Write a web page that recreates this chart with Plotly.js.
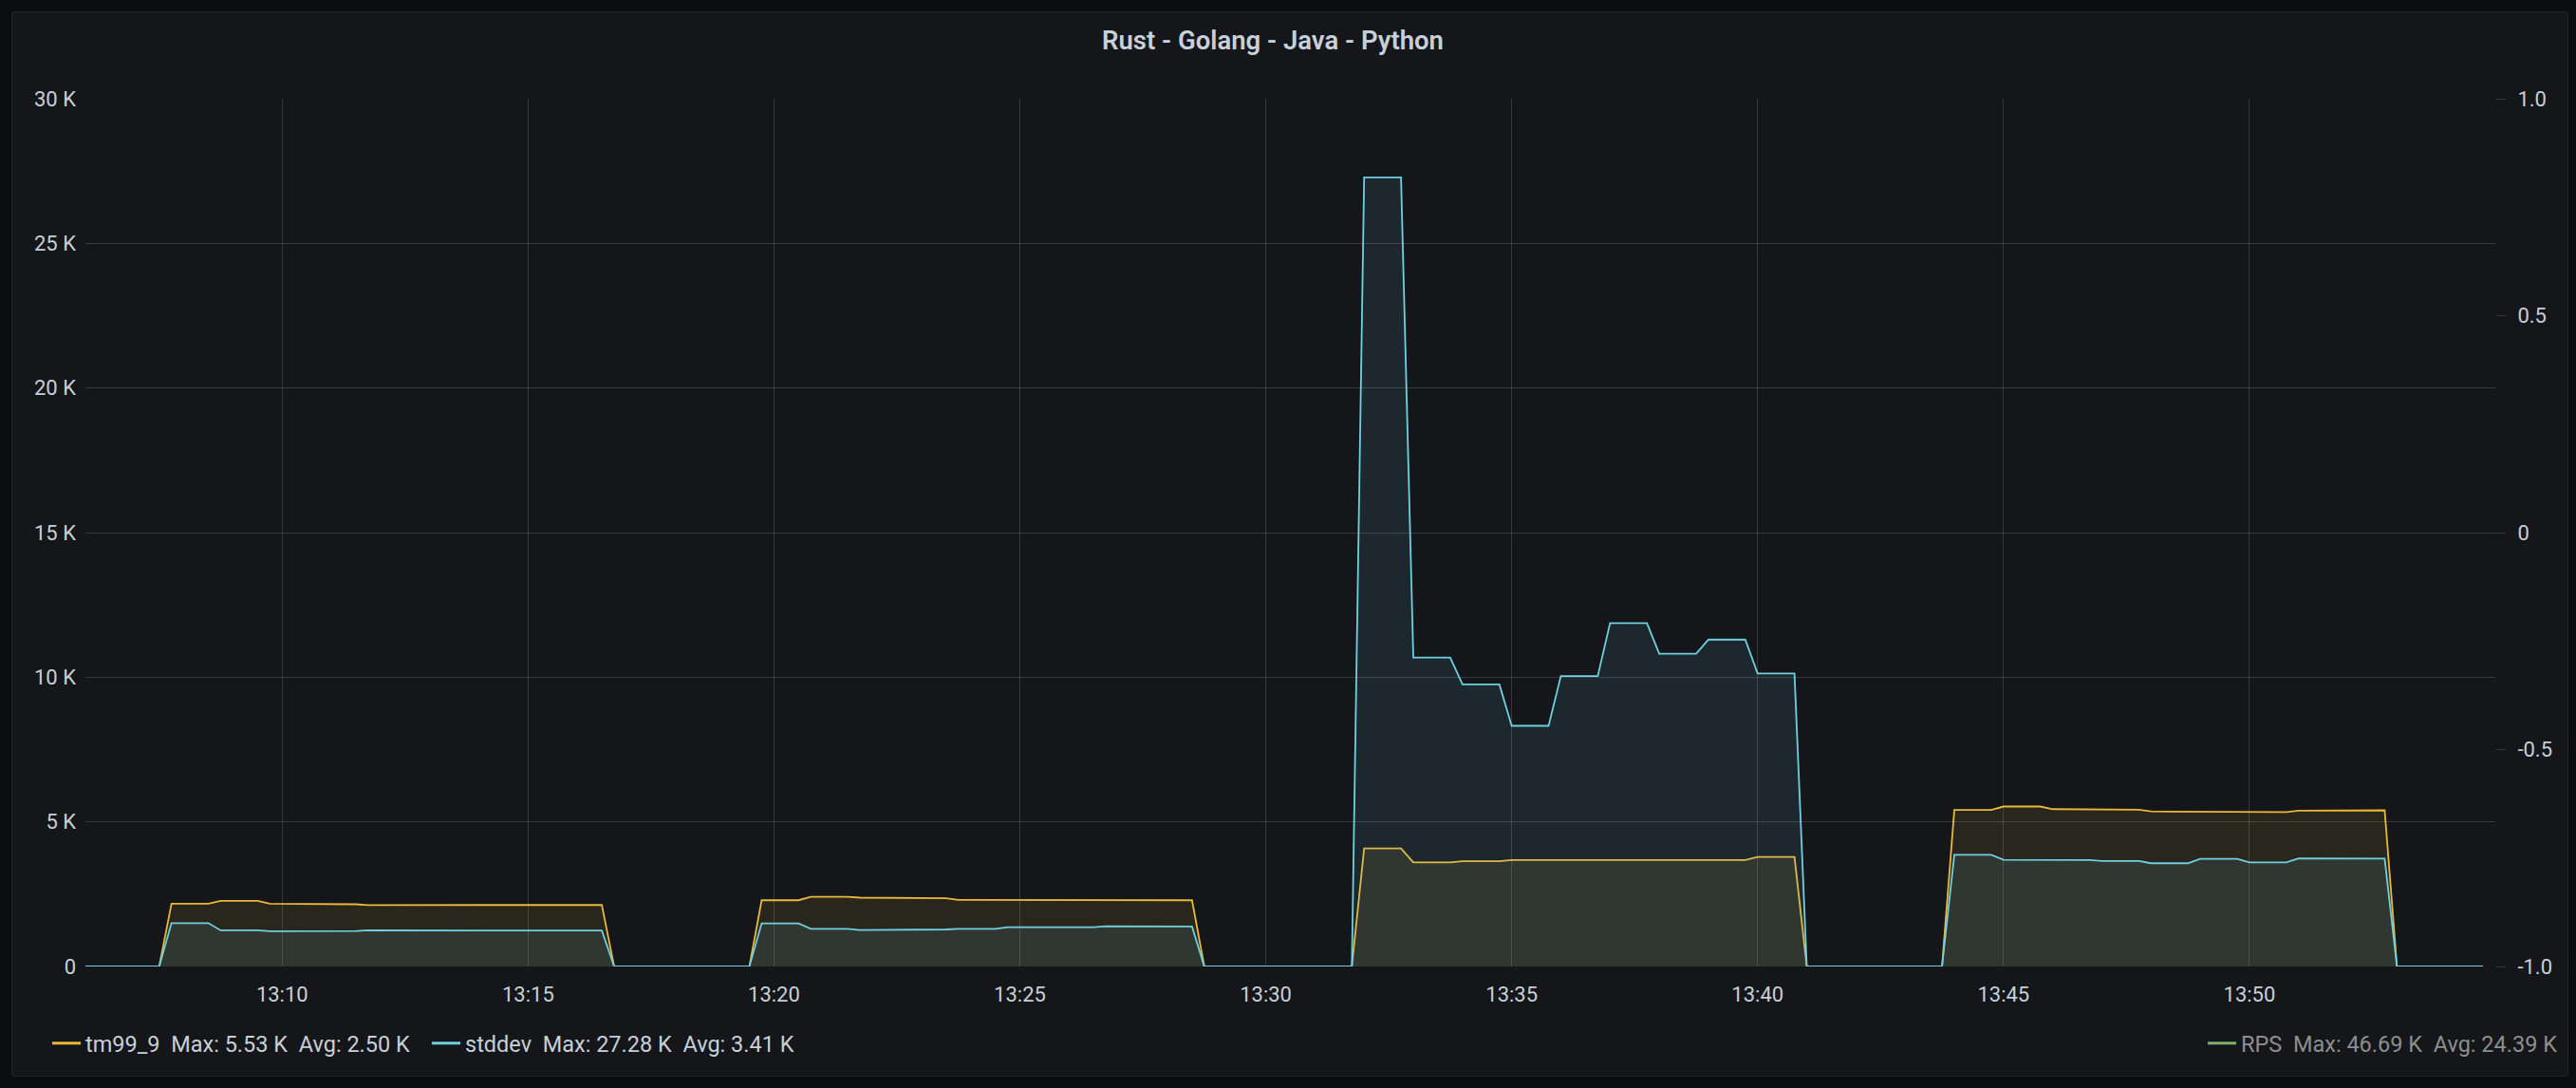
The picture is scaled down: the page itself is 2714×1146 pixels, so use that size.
<!DOCTYPE html>
<html>
<head>
<meta charset="utf-8">
<script src="https://cdn.plot.ly/plotly-3.0.1.min.js"></script>
<style>
html,body{margin:0;padding:0;background:#0b0c0e;width:2714px;height:1146px;overflow:hidden;}
#panel{position:absolute;left:12px;top:12px;width:2694px;height:1122px;box-sizing:border-box;background:#141619;border:1px solid #222429;border-radius:3px;}
#chart{position:absolute;left:0;top:0;width:2714px;height:1146px;}
</style>
</head>
<body>
<div id="panel"></div>
<div id="chart"></div>
<script>
// ---- data ----
const day = '2021-06-01 ';
const times = [
'13:06:00','13:06:15','13:06:30','13:06:45',
'13:07:00','13:07:15','13:07:30','13:07:45',
'13:08:00','13:08:15','13:08:30','13:08:45',
'13:09:00','13:09:15','13:09:30','13:09:45',
'13:10:00','13:10:15','13:10:30','13:10:45',
'13:11:00','13:11:15','13:11:30','13:11:45',
'13:12:00','13:12:15','13:12:30','13:12:45',
'13:13:00','13:13:15','13:13:30','13:13:45',
'13:14:00','13:14:15','13:14:30','13:14:45',
'13:15:00','13:15:15','13:15:30','13:15:45',
'13:16:00','13:16:15','13:16:30','13:16:45',
'13:17:00','13:17:15','13:17:30','13:17:45',
'13:18:00','13:18:15','13:18:30','13:18:45',
'13:19:00','13:19:15','13:19:30','13:19:45',
'13:20:00','13:20:15','13:20:30','13:20:45',
'13:21:00','13:21:15','13:21:30','13:21:45',
'13:22:00','13:22:15','13:22:30','13:22:45',
'13:23:00','13:23:15','13:23:30','13:23:45',
'13:24:00','13:24:15','13:24:30','13:24:45',
'13:25:00','13:25:15','13:25:30','13:25:45',
'13:26:00','13:26:15','13:26:30','13:26:45',
'13:27:00','13:27:15','13:27:30','13:27:45',
'13:28:00','13:28:15','13:28:30','13:28:45',
'13:29:00','13:29:15','13:29:30','13:29:45',
'13:30:00','13:30:15','13:30:30','13:30:45',
'13:31:00','13:31:15','13:31:30','13:31:45',
'13:32:00','13:32:15','13:32:30','13:32:45',
'13:33:00','13:33:15','13:33:30','13:33:45',
'13:34:00','13:34:15','13:34:30','13:34:45',
'13:35:00','13:35:15','13:35:30','13:35:45',
'13:36:00','13:36:15','13:36:30','13:36:45',
'13:37:00','13:37:15','13:37:30','13:37:45',
'13:38:00','13:38:15','13:38:30','13:38:45',
'13:39:00','13:39:15','13:39:30','13:39:45',
'13:40:00','13:40:15','13:40:30','13:40:45',
'13:41:00','13:41:15','13:41:30','13:41:45',
'13:42:00','13:42:15','13:42:30','13:42:45',
'13:43:00','13:43:15','13:43:30','13:43:45',
'13:44:00','13:44:15','13:44:30','13:44:45',
'13:45:00','13:45:15','13:45:30','13:45:45',
'13:46:00','13:46:15','13:46:30','13:46:45',
'13:47:00','13:47:15','13:47:30','13:47:45',
'13:48:00','13:48:15','13:48:30','13:48:45',
'13:49:00','13:49:15','13:49:30','13:49:45',
'13:50:00','13:50:15','13:50:30','13:50:45',
'13:51:00','13:51:15','13:51:30','13:51:45',
'13:52:00','13:52:15','13:52:30','13:52:45',
'13:53:00','13:53:15','13:53:30','13:53:45',
'13:54:00','13:54:15','13:54:30','13:54:45'
];
const tm99_9 = [
0,0,0,0,
0,0,0,2170,
2170,2170,2170,2270,
2270,2270,2270,2170,
2170,2170,2170,2150,
2150,2150,2150,2120,
2120,2120,2120,2130,
2130,2130,2130,2120,
2120,2120,2120,2110,
2110,2110,2110,2130,
2130,2130,2130,0,
0,0,0,0,
0,0,0,0,
0,0,0,2290,
2290,2290,2290,2410,
2410,2410,2410,2380,
2380,2380,2380,2360,
2360,2360,2360,2300,
2300,2300,2300,2280,
2280,2280,2280,2300,
2300,2300,2300,2280,
2280,2280,2280,2290,
2290,2290,2290,0,
0,0,0,0,
0,0,0,0,
0,0,0,0,
4080,4080,4080,4080,
3600,3600,3600,3600,
3640,3640,3640,3640,
3680,3680,3680,3680,
3700,3700,3700,3700,
3680,3680,3680,3680,
3680,3680,3680,3680,
3680,3680,3680,3680,
3790,3790,3790,3790,
0,0,0,0,
0,0,0,0,
0,0,0,0,
5410,5410,5410,5410,
5530,5530,5530,5530,
5440,5440,5440,5440,
5420,5420,5420,5420,
5360,5360,5360,5360,
5360,5360,5360,5360,
5340,5340,5340,5340,
5390,5390,5390,5390,
5400,5400,5400,5400,
0,0,0,0,
0,0,0,0
];
const stddev = [
0,0,0,0,
0,0,0,1500,
1500,1500,1500,1250,
1250,1250,1250,1220,
1220,1220,1220,1230,
1230,1230,1230,1250,
1250,1250,1250,1250,
1250,1250,1250,1250,
1250,1250,1250,1230,
1230,1230,1230,1240,
1240,1240,1240,0,
0,0,0,0,
0,0,0,0,
0,0,0,1490,
1490,1490,1490,1300,
1300,1300,1300,1260,
1260,1260,1260,1280,
1280,1280,1280,1300,
1300,1300,1300,1360,
1360,1360,1360,1360,
1360,1360,1360,1390,
1390,1390,1390,1380,
1380,1380,1380,0,
0,0,0,0,
0,0,0,0,
0,0,0,0,
27280,27280,27280,27280,
10680,10680,10680,10680,
9750,9750,9750,9750,
8320,8320,8320,8320,
10040,10040,10040,10040,
11870,11870,11870,11870,
10810,10810,10810,10810,
11300,11300,11300,11300,
10130,10130,10130,10130,
0,0,0,0,
0,0,0,0,
0,0,0,0,
3860,3860,3860,3860,
3690,3690,3690,3690,
3680,3680,3680,3680,
3650,3650,3650,3650,
3570,3570,3570,3570,
3720,3720,3720,3720,
3600,3600,3600,3600,
3740,3740,3740,3740,
3730,3730,3730,3730,
0,0,0,0,
0,0,0,0
];
const seriesNames = ['tm99_9', 'stddev', 'RPS'];
const seriesMax = ['5.53 K', '27.28 K', '46.69 K'];
const seriesAvg = ['2.50 K', '3.41 K', '24.39 K'];
const xTickVals = ['13:10:00', '13:15:00', '13:20:00', '13:25:00', '13:30:00', '13:35:00', '13:40:00', '13:45:00', '13:50:00'];
const xTickText = ['13:10', '13:15', '13:20', '13:25', '13:30', '13:35', '13:40', '13:45', '13:50'];
const leftTickVals = [0, 5000, 10000, 15000, 20000, 25000, 30000];
const leftTickText = ['0', '5 K', '10 K', '15 K', '20 K', '25 K', '30 K'];
const rightTickVals = [-1, -0.5, 0, 0.5, 1];
const rightTickText = ['-1.0', '-0.5', '0', '0.5', '1.0'];
const titleText = 'Rust - Golang - Java - Python';

// ---- styling ----
const FONT = 'Roboto, "Noto Sans", sans-serif';
const TXT = '#c7d0d9';
const GRID = 'rgba(200,200,200,0.2)';
const colors = ['#EAB839', '#6ED0E0', '#7EB26D'];
const fills = ['rgba(234,184,57,0.10)', 'rgba(110,208,224,0.10)'];
const NB = '\u00a0\u00a0';
const label = i => seriesNames[i] + NB + 'Max: ' + seriesMax[i] + NB + 'Avg: ' + seriesAvg[i];

const X = times.map(t => day + t);

const traces = [
  {x: X, y: tm99_9, type: 'scatter', mode: 'lines', name: seriesNames[0],
   line: {color: colors[0], width: 1.8}, fill: 'tozeroy', fillcolor: fills[0],
   showlegend: false, hoverinfo: 'x+y'},
  {x: X, y: stddev, type: 'scatter', mode: 'lines', name: seriesNames[1],
   line: {color: colors[1], width: 1.8}, fill: 'tozeroy', fillcolor: fills[1],
   showlegend: false, hoverinfo: 'x+y'},
  // legend entries
  {x: [null], y: [null], type: 'scatter', mode: 'lines', name: label(0),
   line: {color: colors[0], width: 3}, legend: 'legend', hoverinfo: 'skip'},
  {x: [null], y: [null], type: 'scatter', mode: 'lines', name: label(1),
   line: {color: colors[1], width: 3}, legend: 'legend2', hoverinfo: 'skip'},
  // RPS is hidden in the reference (only its legend entry shows) and lives on the right axis
  {x: [null], y: [null], type: 'scatter', mode: 'lines', name: label(2), yaxis: 'y2',
   line: {color: colors[2], width: 3}, legend: 'legend3', hoverinfo: 'skip'}
];

const legBase = {orientation: 'h', xref: 'container', yref: 'container', yanchor: 'middle',
  bgcolor: 'rgba(0,0,0,0)', borderwidth: 0, font: {family: FONT, size: 23.5, color: TXT}};

const layout = {
  width: 2714, height: 1146,
  margin: {l: 90, r: 85, t: 104, b: 128, pad: 0},
  paper_bgcolor: 'rgba(0,0,0,0)', plot_bgcolor: 'rgba(0,0,0,0)',
  title: {text: titleText, xref: 'container', yref: 'container', x: 1341 / 2714, xanchor: 'center',
          y: 1 - 42.5 / 1146, yanchor: 'middle',
          font: {family: FONT, size: 27.5, color: TXT, weight: 600}},
  xaxis: {type: 'date', range: [day + '13:06:00', day + '13:55:00'], tickmode: 'array',
          tickvals: xTickVals.map(t => day + t), ticktext: xTickText,
          showgrid: true, gridcolor: GRID, gridwidth: 1,
          zeroline: false, showline: false, ticks: '', ticklabelstandoff: 14,
          tickfont: {family: FONT, size: 22, color: TXT}},
  yaxis: {range: [0, 30000], tickmode: 'array', tickvals: leftTickVals, ticktext: leftTickText,
          showgrid: true, gridcolor: GRID, gridwidth: 1, zeroline: false, showline: false,
          ticks: '', ticklabelstandoff: 9, tickfont: {family: FONT, size: 22, color: TXT}},
  yaxis2: {overlaying: 'y', side: 'right', range: [-1, 1], tickmode: 'array',
           tickvals: rightTickVals, ticktext: rightTickText, showgrid: false, zeroline: false,
           showline: false, ticks: 'outside', ticklen: 10, tickcolor: GRID, tickwidth: 1,
           ticklabelstandoff: 8, tickfont: {family: FONT, size: 22, color: TXT}},
  legend: Object.assign({}, legBase, {x: 50 / 2714, xanchor: 'left', y: 1 - 1099 / 1146}),
  legend2: Object.assign({}, legBase, {x: 450 / 2714, xanchor: 'left', y: 1 - 1099 / 1146}),
  legend3: Object.assign({}, legBase, {x: 2700 / 2714, xanchor: 'right', y: 1 - 1099 / 1146,
           font: {family: FONT, size: 23.5, color: '#8e8e8e'}}),
  showlegend: true
};

Plotly.newPlot('chart', traces, layout, {displayModeBar: false, responsive: false});
</script>
</body>
</html>
